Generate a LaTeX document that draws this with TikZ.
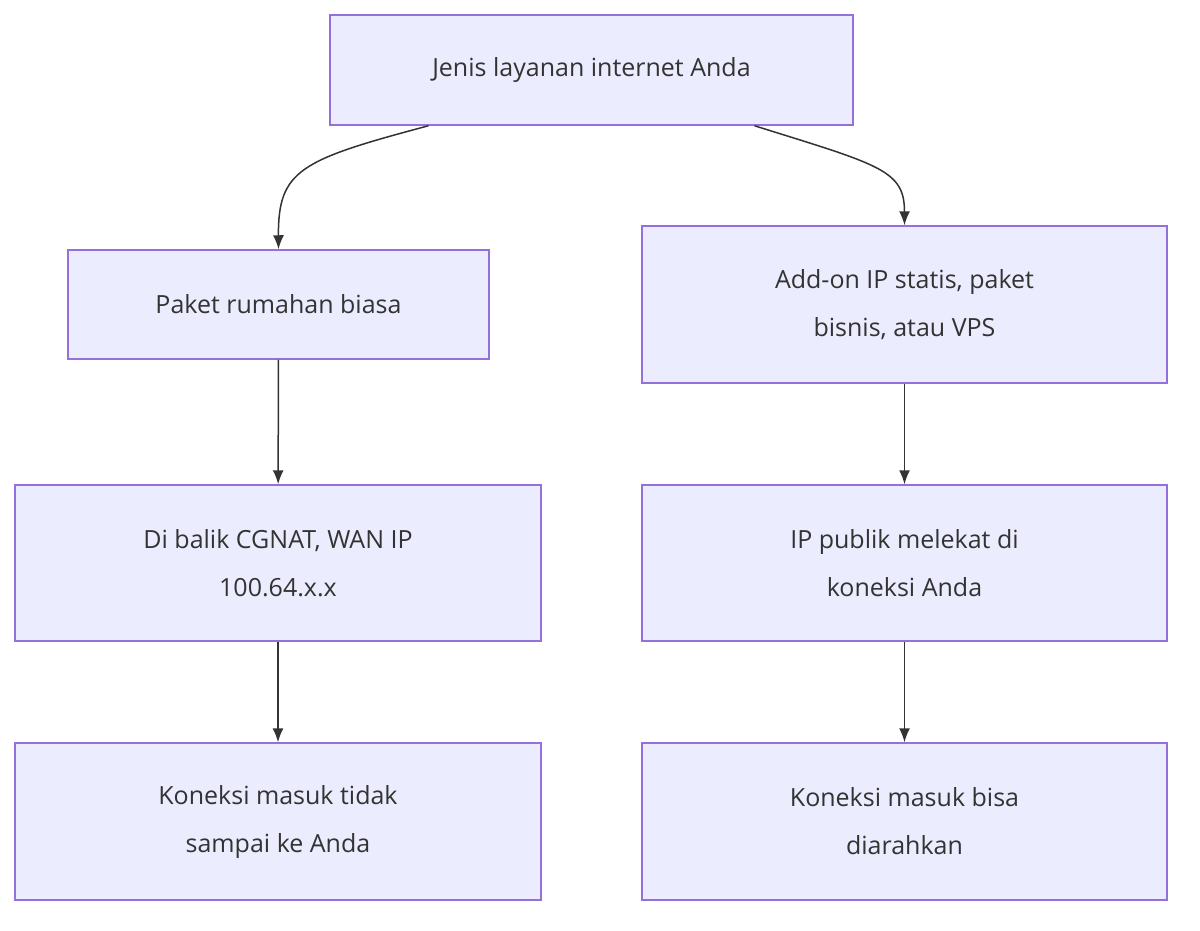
\documentclass[tikz,border=0pt]{standalone}
\usepackage{fontspec}
\setmainfont{Open Sans}
\usetikzlibrary{arrows.meta}
\definecolor{boxfill}{HTML}{ECECFF}
\definecolor{boxline}{HTML}{9370DB}
\definecolor{linkcol}{HTML}{333333}
\tikzset{
  box/.style={draw=boxline, fill=boxfill, line width=1.5pt, align=center,
    font=\fontsize{25}{48}\selectfont, text=linkcol, inner sep=0pt},
  link/.style={draw=linkcol, line width=1.5pt, -{Latex[length=14pt,width=11pt]}}
}
\begin{document}
\begin{tikzpicture}[x=1pt,y=-1pt]
    \useasboundingbox (0,0) rectangle (1200,930);
    % Nodes
    \node[box, minimum width=523pt, minimum height=110pt] (jenis) at (591.5,70) {Jenis layanan internet Anda};
    \node[box, minimum width=421pt, minimum height=109pt] (paket) at (278.5,304.5) {Paket rumahan biasa};
    \node[box, minimum width=525pt, minimum height=157pt] (addon) at (904.5,304.5) {Add-on IP statis, paket\\bisnis, atau VPS};
    \node[box, minimum width=526pt, minimum height=156pt] (cgnat) at (278,563) {Di balik CGNAT, WAN IP\\100.64.x.x};
    \node[box, minimum width=525pt, minimum height=156pt] (publik) at (904.5,563) {IP publik melekat di\\koneksi Anda};
    \node[box, minimum width=526pt, minimum height=157pt] (tidak) at (278,821.5) {Koneksi masuk tidak\\sampai ke Anda};
    \node[box, minimum width=525pt, minimum height=157pt] (bisa) at (904.5,821.5) {Koneksi masuk bisa\\diarahkan};
    % Links
    \coordinate (jl) at ([xshift=-163pt]jenis.south);
    \coordinate (jr) at ([xshift=163pt]jenis.south);
    \draw[link] (jl) .. controls (300,160) and (278,170) .. (paket.north);
    \draw[link] (jr) .. controls (880,165) and (904.5,170) .. (addon.north);
    \draw[link] (paket) -- (cgnat);
    \draw[link] (cgnat) -- (tidak);
    \draw[link] (addon) -- (publik);
    \draw[link] (publik) -- (bisa);
\end{tikzpicture}
\end{document}
